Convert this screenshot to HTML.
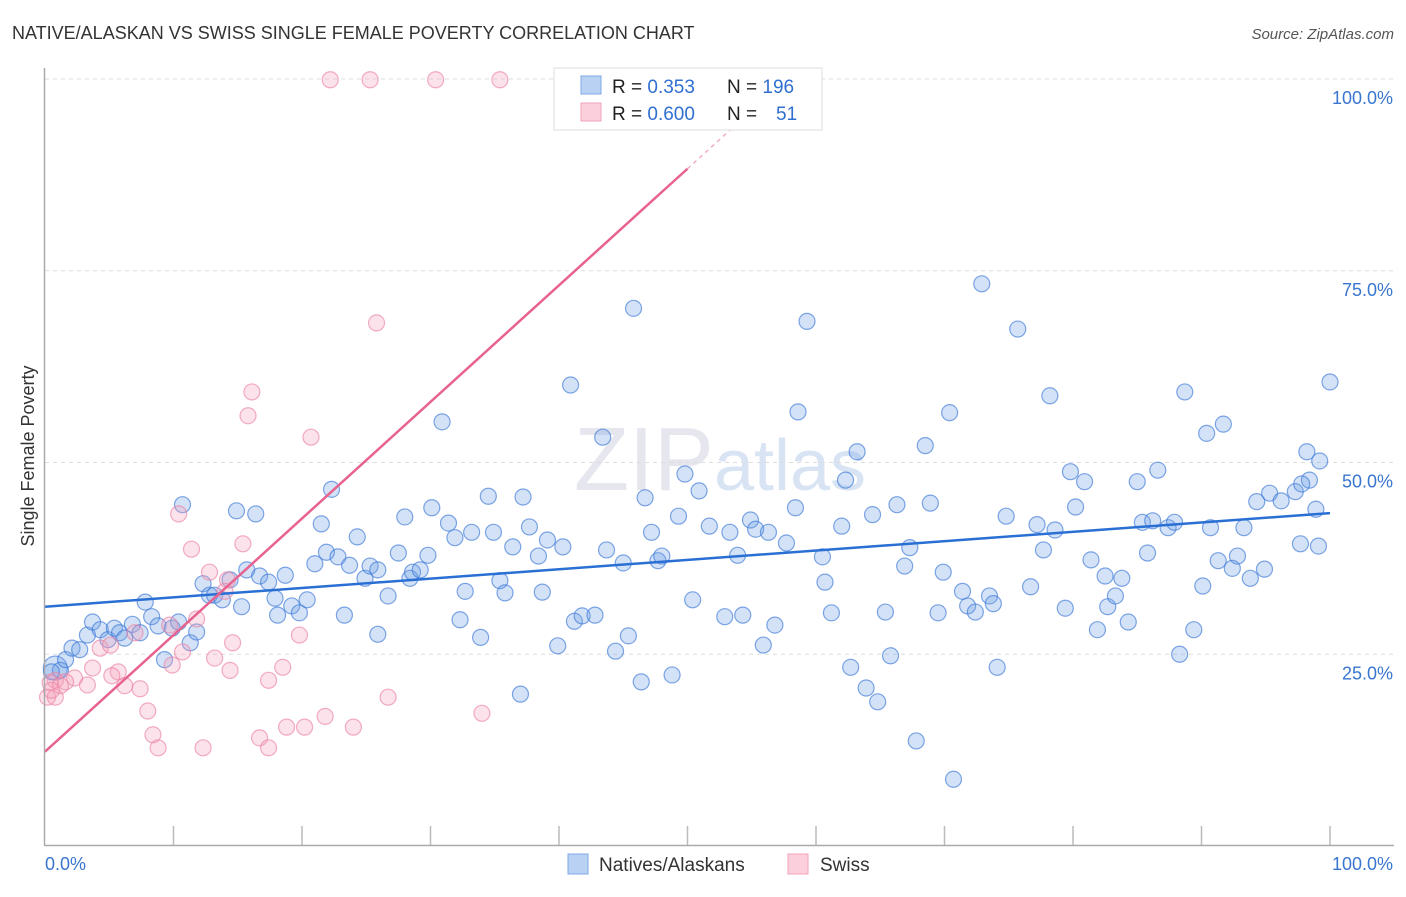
<!DOCTYPE html>
<html><head><meta charset="utf-8"><style>
body{margin:0;background:#fff;font-family:"Liberation Sans",sans-serif;}
svg text{font-family:"Liberation Sans",sans-serif;}
</style></head><body>
<svg id="chart" width="1406" height="892" xmlns="http://www.w3.org/2000/svg">
<text x="12" y="39" font-size="18" fill="#333">NATIVE/ALASKAN VS SWISS SINGLE FEMALE POVERTY CORRELATION CHART</text>
<text x="1394" y="39" font-size="15" fill="#555" text-anchor="end" font-style="italic">Source: ZipAtlas.com</text>
<text x="720" y="490" font-size="90" fill="#e6e6ee" text-anchor="middle" font-family="Liberation Serif">ZIP<tspan fill="#d8e4f4" font-family="Liberation Sans" font-size="72">atlas</tspan></text>
<g id="grid"></g>
<g id="pts"></g>
<g id="lines"></g>
<line x1="44.5" y1="68" x2="44.5" y2="845" stroke="#aaa" stroke-width="1.5"/>
<line x1="44" y1="845.5" x2="1394" y2="845.5" stroke="#aaa" stroke-width="1.5"/>
<text x="34" y="456" font-size="18" fill="#333" text-anchor="middle" transform="rotate(-90 34 456)">Single Female Poverty</text>
<text x="45" y="870" font-size="18" fill="#3a75d0">0.0%</text>
<text x="1393" y="870" font-size="18" fill="#3a75d0" text-anchor="end">100.0%</text>
<g>
<rect x="554" y="68" width="268" height="62" fill="#fff" stroke="#ddd"/>
<rect x="581" y="76" width="20" height="18" fill="#b9d2f4" stroke="#7ea8e6"/>
<rect x="581" y="103" width="20" height="18" fill="#fbd0dc" stroke="#f0a3ba"/>
<text x="612" y="93" font-size="19" fill="#222">R = <tspan fill="#2f6fd0">0.353</tspan><tspan x="727">N = </tspan><tspan fill="#2f6fd0">196</tspan></text>
<text x="612" y="120" font-size="19" fill="#222">R = <tspan fill="#2f6fd0">0.600</tspan><tspan x="727">N = </tspan><tspan fill="#2f6fd0" x="776">51</tspan></text>
</g>
<g>
<rect x="568" y="854" width="20" height="20" fill="#b9d2f4" stroke="#7ea8e6"/>
<text x="599" y="871" font-size="19" fill="#333">Natives/Alaskans</text>
<rect x="788" y="854" width="20" height="20" fill="#fbd0dc" stroke="#f0a3ba"/>
<text x="820" y="871" font-size="19" fill="#333">Swiss</text>
</g>
</svg>
<script>
const yTicks=[25,50,75,100];
const yTickLabels=["25.0%","50.0%","75.0%","100.0%"];
const xTicks=[10,20,30,40,50,60,70,80,90,100];
const blueX=[0.8,1.2,0.5,1.6,2.1,2.7,3.3,3.7,4.3,4.9,5.4,5.8,6.2,6.8,7.4,7.8,8.3,8.8,9.3,9.9,10.4,10.7,11.3,11.8,12.3,12.8,13.2,13.8,14.4,14.9,15.3,15.7,16.4,16.7,17.4,17.9,18.1,18.7,19.2,19.8,20.4,21.0,21.5,21.9,22.3,22.8,23.3,23.7,24.3,24.9,25.3,25.9,25.9,26.7,27.5,28.0,28.4,28.6,29.2,29.8,30.1,30.9,31.4,31.9,32.3,32.7,33.2,33.9,34.5,34.9,35.4,35.8,36.4,37.0,37.2,37.7,38.4,38.7,39.1,39.9,40.3,40.9,41.2,41.8,42.8,43.4,43.7,44.4,45.0,45.4,45.8,46.4,46.7,47.2,47.7,48.0,48.8,49.3,49.8,50.4,50.9,51.7,52.9,53.3,53.9,54.3,54.9,55.3,55.9,56.3,56.8,57.7,58.4,58.6,59.3,60.5,60.7,61.2,62.0,62.3,62.7,63.2,63.9,64.4,64.8,65.4,65.8,66.3,66.9,67.3,67.8,68.5,68.9,69.5,69.9,70.4,70.7,71.4,71.8,72.4,72.9,73.5,73.8,74.1,74.8,75.7,76.7,77.2,77.7,78.2,78.6,79.4,79.8,80.2,80.9,81.4,81.9,82.5,82.7,83.3,83.8,84.3,85.0,85.4,85.8,86.2,86.6,87.4,87.9,88.3,88.7,89.4,90.1,90.4,90.7,91.3,91.7,92.4,92.8,93.3,93.8,94.3,94.9,95.3,96.2,97.3,97.7,98.2,98.4,99.1,99.2,100,98.9,97.8];
const blueY=[23.2,22.9,22.7,24.3,25.8,25.6,27.5,29.2,28.2,26.9,28.4,27.8,27.1,28.9,27.8,31.8,29.9,28.7,24.3,28.4,29.2,44.5,26.5,27.9,34.2,32.7,32.7,32.1,34.7,43.7,31.2,36.0,43.3,35.2,34.4,32.3,30.1,35.3,31.3,30.4,32.1,36.8,42.0,38.3,46.5,37.7,30.1,36.6,40.3,34.9,36.5,36.0,27.6,32.6,38.2,42.9,34.9,35.7,36.0,37.9,44.1,55.3,42.1,40.2,29.5,33.2,40.9,27.2,45.6,40.9,34.6,33.0,39.0,19.8,45.5,41.6,37.8,33.1,39.9,26.1,39.0,60.1,29.3,30.0,30.1,53.3,38.6,25.4,36.9,27.4,70.1,21.4,45.4,40.9,37.2,37.8,22.3,43.0,48.5,32.1,46.3,41.7,29.9,40.9,37.9,30.1,42.5,41.3,26.2,40.9,28.8,39.5,44.1,56.6,68.4,37.7,34.4,30.4,41.7,47.7,23.3,51.4,20.6,43.2,18.8,30.5,24.8,44.5,36.5,38.9,13.7,52.2,44.7,30.4,35.7,56.5,8.7,33.2,31.3,30.5,73.3,32.6,31.6,23.3,43.0,67.4,33.8,41.9,38.6,58.7,41.2,31.0,48.8,44.2,47.5,37.3,28.2,35.2,31.2,32.6,34.9,29.2,47.5,42.2,38.2,42.4,49.0,41.5,42.2,25.0,59.2,28.2,33.9,53.8,41.5,37.2,55.0,36.2,37.8,41.5,34.9,44.9,36.1,46.0,45.0,46.2,39.4,51.4,47.7,39.1,50.2,60.5,43.9,47.2];
const pinkX=[22.2,25.3,30.4,35.4,47.2,25.8,16.1,15.8,20.7,10.4,11.4,15.4,12.8,14.2,14.0,11.8,9.7,7.0,10.7,4.3,5.1,14.6,19.8,13.2,9.9,18.5,3.7,5.7,14.4,2.3,5.2,0.8,1.6,3.3,6.2,7.4,17.4,0.4,0.2,0.8,8.0,8.4,8.8,12.3,16.7,17.4,18.8,20.2,21.8,24.0,26.7,34.0,1.2,0.5];
const pinkY=[99.9,99.9,99.9,99.9,99.9,68.2,59.2,56.1,53.3,43.3,38.7,39.4,35.7,34.7,33.2,29.6,28.8,27.8,25.3,25.8,26.2,26.5,27.5,24.5,23.6,23.3,23.2,22.7,22.9,21.9,22.2,21.6,21.4,21.0,20.9,20.5,21.6,21.3,19.4,19.4,17.6,14.5,12.8,12.8,14.1,12.8,15.5,15.5,16.9,15.5,19.4,17.3,20.9,20.3];
const blueTrend=[31.2,43.4];
const pinkTrend=[12.3,1.52];
const pinkSolidEnd=50,pinkDashEnd=53.7;
const X=v=>45+v*12.85, Y=v=>846-v*7.67;
const NS="http://www.w3.org/2000/svg";
function mk(t,a,p){const e=document.createElementNS(NS,t);for(const k in a)e.setAttribute(k,a[k]);p.appendChild(e);return e;}
const grid=document.getElementById('grid');
yTicks.forEach((v,i)=>{
 const l=mk('line',{x1:45,x2:1394,y1:Y(v),y2:Y(v),stroke:'#ddd','stroke-dasharray':'4,4'},grid);
 
 
 const t=mk('text',{x:1393,y:Y(v)+25,'font-size':18,fill:'#3a75d0','text-anchor':'end'},grid);
 t.textContent=yTickLabels[i];
 
 
});
xTicks.forEach(v=>{
 const l=mk('line',{x1:X(v),x2:X(v),y1:826,y2:845,stroke:'#bbb','stroke-width':1.5},grid);
 
 
});
const pts=document.getElementById('pts');
blueX.forEach((x,i)=>{
 const c=mk('circle',{cx:X(x),cy:Y(blueY[i]),r:i==0?12:8,fill:'rgba(110,160,230,0.3)',stroke:'rgba(60,120,215,0.65)','stroke-width':1.2},pts);
 
 
});
pinkX.forEach((x,i)=>{
 const c=mk('circle',{cx:X(x),cy:Y(pinkY[i]),r:8,fill:'rgba(245,160,185,0.3)',stroke:'rgba(235,130,165,0.65)','stroke-width':1.2},pts);
 
 
});
const lines=document.getElementById('lines');
const bl=mk('line',{x1:X(0),y1:Y(blueTrend[0]),x2:X(100),y2:Y(blueTrend[1]),stroke:'#2a6fd4','stroke-width':2.5},lines);


const pl=mk('line',{x1:X(0),y1:Y(pinkTrend[0]),x2:X(pinkSolidEnd),y2:Y(pinkTrend[0]+pinkTrend[1]*pinkSolidEnd),stroke:'#e8628f','stroke-width':2.5},lines);


const pd=mk('line',{x1:X(pinkSolidEnd),y1:Y(pinkTrend[0]+pinkTrend[1]*pinkSolidEnd),x2:X(pinkDashEnd),y2:Y(pinkTrend[0]+pinkTrend[1]*pinkDashEnd),stroke:'#f0b0c4','stroke-width':1.5,'stroke-dasharray':'4,4'},lines);


</script>
</body></html>
